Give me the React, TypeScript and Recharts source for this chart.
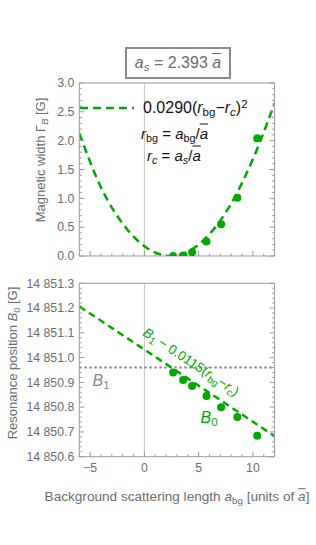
import React from "react";
import { ComposedChart, Line, Scatter, XAxis, YAxis, ReferenceLine } from "recharts";

// measured points (a_bg in units of a-bar)
const aBg = [2.65, 3.57, 4.4, 5.72, 7.07, 8.57, 10.4];
const widthG = [0.0, 0.01, 0.065, 0.25, 0.55, 1.01, 2.04];
const posB0 = [14850.94, 14850.91, 14850.885, 14850.845, 14850.8, 14850.76, 14850.685];

// fit curves
const fitX = [-6, -4, -2, 0, 2, 2.4, 4, 6, 8, 10, 12];
const fitWidth = [2.13, 1.19, 0.56, 0.17, 0.005, 0, 0.075, 0.38, 0.91, 1.68, 2.65];
const lineX = [-6, 12];
const lineB0 = [14851.207, 14850.683];
const B1 = 14850.96;

// tick labels
const xTickLabels = [-5, 0, 5, 10];
const widthTickLabels = [0, 0.5, 1, 1.5, 2, 2.5, 3];
const posTickLabels = [14850.6, 14850.7, 14850.8, 14850.9, 14851.0, 14851.1, 14851.2, 14851.3];

const xTicks = Array.from({ length: 19 }, (_, i) => i - 6);
const widthTicks = Array.from({ length: 31 }, (_, i) => i / 10);
const posTicks = Array.from({ length: 36 }, (_, i) => Math.round((14850.6 + i * 0.02) * 100) / 100);

const GREEN = "#00a800";
const FRAME = "#9a9a9a";
const TXT = "#6c6c6c";
const FONT = "'Liberation Sans', Arial, sans-serif";

type Side = "bottom" | "top" | "left" | "right";

const makeTick =
  (side: Side, majors: number[], fmt: ((v: number) => string) | null) =>
  (props: any) => {
    const { x, y, payload } = props;
    const v = payload.value;
    const major = majors.some((m) => Math.abs(m - v) < 1e-6);
    const len = major ? 5 : 2.5;
    let ln;
    if (side === "bottom") ln = <line x1={x} x2={x} y1={y} y2={y - len} stroke={FRAME} />;
    else if (side === "top") ln = <line x1={x} x2={x} y1={y} y2={y + len} stroke={FRAME} />;
    else if (side === "left") ln = <line x1={x} x2={x + len} y1={y} y2={y} stroke={FRAME} />;
    else ln = <line x1={x} x2={x - len} y1={y} y2={y} stroke={FRAME} />;
    let label = null;
    if (fmt && major) {
      if (side === "bottom")
        label = (
          <text x={x} y={y + 15.5} textAnchor="middle" fill={TXT} fontSize={12.3} fontFamily={FONT}>
            {fmt(v)}
          </text>
        );
      else if (side === "left")
        label = (
          <text x={x - 5} y={y + 4.2} textAnchor="end" fill={TXT} fontSize={12.3} fontFamily={FONT}>
            {fmt(v)}
          </text>
        );
    }
    return (
      <g>
        {ln}
        {label}
      </g>
    );
  };

const fmtX = (v: number) => (v < 0 ? "\u2212" + Math.abs(v) : String(v));
const fmtW = (v: number) => v.toFixed(1);
const fmtB = (v: number) => {
  const s = v.toFixed(1);
  return s.slice(0, 2) + " " + s.slice(2);
};

const Dot = (p: any) => <circle cx={p.cx} cy={p.cy} r={4} fill={GREEN} />;

const Ov = ({ children }: { children: React.ReactNode }) => (
  <i style={{ textDecoration: "overline" }}>{children}</i>
);
const Sub = ({ children }: { children: React.ReactNode }) => (
  <span style={{ fontSize: "0.72em", position: "relative", top: "0.3em" }}>{children}</span>
);
const Sup = ({ children }: { children: React.ReactNode }) => (
  <span style={{ fontSize: "0.72em", position: "relative", top: "-0.45em" }}>{children}</span>
);

const abs = (left: number, top: number, extra: React.CSSProperties = {}): React.CSSProperties => ({
  position: "absolute",
  left,
  top,
  whiteSpace: "nowrap",
  lineHeight: 1,
  fontFamily: FONT,
  ...extra,
});

const centered = (cx: number, cy: number, rot: number, extra: React.CSSProperties = {}): React.CSSProperties =>
  abs(cx, cy, { transform: `translate(-50%, -50%) rotate(${rot}deg)`, ...extra });

// frame: four axes with inward ticks, 1px thick so that they are drawn
function Frame({ yDomain, yTicks, yMajors, yFmt, showX }: any) {
  return [
    <XAxis
      key="xb"
      xAxisId="b"
      dataKey="x"
      type="number"
      domain={[-6, 12]}
      allowDataOverflow
      ticks={xTicks}
      interval={0}
      height={1}
      tickSize={0}
      tickMargin={0}
      tickLine={false}
      axisLine={{ stroke: FRAME }}
      tick={makeTick("bottom", xTickLabels, showX ? fmtX : null)}
    />,
    <XAxis
      key="xt"
      xAxisId="t"
      orientation="top"
      type="number"
      domain={[-6, 12]}
      allowDataOverflow
      ticks={xTicks}
      interval={0}
      height={1}
      tickSize={0}
      tickMargin={0}
      tickLine={false}
      axisLine={{ stroke: FRAME }}
      tick={makeTick("top", xTickLabels, null)}
    />,
    <YAxis
      key="yl"
      yAxisId="l"
      dataKey="y"
      type="number"
      domain={yDomain}
      allowDataOverflow
      ticks={yTicks}
      interval={0}
      width={79.3}
      tickSize={0}
      tickMargin={0}
      tickLine={false}
      axisLine={{ stroke: FRAME }}
      tick={makeTick("left", yMajors, yFmt)}
    />,
    <YAxis
      key="yr"
      yAxisId="r"
      orientation="right"
      type="number"
      domain={yDomain}
      allowDataOverflow
      ticks={yTicks}
      interval={0}
      width={1}
      tickSize={0}
      tickMargin={0}
      tickLine={false}
      axisLine={{ stroke: FRAME }}
      tick={makeTick("right", yMajors, null)}
    />,
  ];
}

export default function App() {
  const widthPts = aBg.map((x, i) => ({ x, y: widthG[i] }));
  const posPts = aBg.map((x, i) => ({ x, y: posB0[i] }));
  const widthFit = fitX.map((x, i) => ({ x, y: fitWidth[i] }));
  const posFit = lineX.map((x, i) => ({ x, y: lineB0[i] }));

  return (
    <div style={{ position: "absolute", left: 0, top: 0, width: 316, height: 545, background: "#fff" }}>
      <div style={{ position: "absolute", left: 0, top: 0 }}>
        <ComposedChart width={316} height={270} margin={{ top: 82, right: 40.4, bottom: 13, left: 0 }}>
          {Frame({
            yDomain: [0, 3],
            yTicks: widthTicks,
            yMajors: widthTickLabels,
            yFmt: fmtW,
            showX: false,
          })}
          <ReferenceLine xAxisId="b" yAxisId="l" x={0} stroke="#c4c4c4" strokeWidth={1} />
          <Line
            xAxisId="b"
            yAxisId="l"
            data={widthFit}
            dataKey="y"
            type="monotone"
            stroke={GREEN}
            strokeWidth={2.5}
            strokeDasharray="8 5"
            dot={false}
            activeDot={false}
            isAnimationActive={false}
          />
          <Scatter xAxisId="b" yAxisId="l" data={widthPts} shape={Dot} isAnimationActive={false} />
        </ComposedChart>
      </div>

      <div style={{ position: "absolute", left: 0, top: 270 }}>
        <ComposedChart width={316} height={275} margin={{ top: 12.3, right: 40.4, bottom: 87.3, left: 0 }}>
          {Frame({
            yDomain: [14850.6, 14851.3],
            yTicks: posTicks,
            yMajors: posTickLabels,
            yFmt: fmtB,
            showX: true,
          })}
          <ReferenceLine xAxisId="b" yAxisId="l" x={0} stroke="#c4c4c4" strokeWidth={1} />
          <ReferenceLine
            xAxisId="b"
            yAxisId="l"
            y={B1}
            stroke="#8a8a8a"
            strokeWidth={2.2}
            strokeDasharray="2.5 2.5"
          />
          <Line
            xAxisId="b"
            yAxisId="l"
            data={posFit}
            dataKey="y"
            type="linear"
            stroke={GREEN}
            strokeWidth={2.5}
            strokeDasharray="7 4.5"
            dot={false}
            activeDot={false}
            isAnimationActive={false}
          />
          <Scatter xAxisId="b" yAxisId="l" data={posPts} shape={Dot} isAnimationActive={false} />
        </ComposedChart>
      </div>

      {/* title box */}
      <div
        style={abs(125, 47, {
          width: 102,
          height: 28,
          border: "2px solid #8a8a8a",
          color: TXT,
          fontSize: 16,
          display: "flex",
          alignItems: "center",
          justifyContent: "center",
        })}
      >
        <span>
          <i>a</i>
          <Sub>
            <i>s</i>
          </Sub>{" "}
          = 2.393 <Ov>a</Ov>
        </span>
      </div>

      {/* legend */}
      <svg style={{ position: "absolute", left: 79, top: 104 }} width={60} height={8}>
        <line x1={1} x2={55} y1={4} y2={4} stroke={GREEN} strokeWidth={2.5} strokeDasharray="8 5" />
      </svg>
      <div style={centered(143, 108, 0, { transform: "translate(0, -50%)", fontSize: 16, color: "#111" })}>
        0.0290(<i>r</i>
        <Sub>bg</Sub>
        {"\u2212"}
        <i>r</i>
        <Sub>
          <i>c</i>
        </Sub>
        )<Sup>2</Sup>
      </div>
      <div style={centered(141, 133, 0, { transform: "translate(0, -50%)", fontSize: 15, color: "#111" })}>
        <i>r</i>
        <Sub>bg</Sub> = <i>a</i>
        <Sub>bg</Sub>/<Ov>a</Ov>
      </div>
      <div style={centered(147, 155, 0, { transform: "translate(0, -50%)", fontSize: 15, color: "#111" })}>
        <i>r</i>
        <Sub>
          <i>c</i>
        </Sub>{" "}
        = <i>a</i>
        <Sub>
          <i>s</i>
        </Sub>
        /<Ov>a</Ov>
      </div>

      {/* axis labels */}
      <div style={centered(41, 160, -90, { fontSize: 13, color: TXT })}>
        Magnetic width Γ
        <Sub>
          <i>B</i>
        </Sub>{" "}
        [G]
      </div>
      <div style={centered(13, 363, -90, { fontSize: 13, color: TXT })}>
        Resonance position <i>B</i>
        <Sub>0</Sub> [G]
      </div>
      <div style={centered(177, 497, 0, { fontSize: 13.6, color: TXT })}>
        Background scattering length <i>a</i>
        <Sub>bg</Sub> [units of <Ov>a</Ov>]
      </div>

      {/* annotations in lower panel */}
      <div style={centered(101, 381, 0, { fontSize: 16, color: "#8a8a8a" })}>
        <i>B</i>
        <Sub>1</Sub>
      </div>
      <div style={centered(209, 418, 0, { fontSize: 16, color: GREEN })}>
        <i>B</i>
        <Sub>0</Sub>
      </div>
      <div style={centered(191, 361.5, 33.5, { fontSize: 13.5, color: GREEN })}>
        <i>B</i>
        <Sub>1</Sub> {"\u2212"} 0.0115(<i>r</i>
        <Sub>bg</Sub>
        {"\u2212"}
        <i>r</i>
        <Sub>
          <i>c</i>
        </Sub>
        )
      </div>
    </div>
  );
}
